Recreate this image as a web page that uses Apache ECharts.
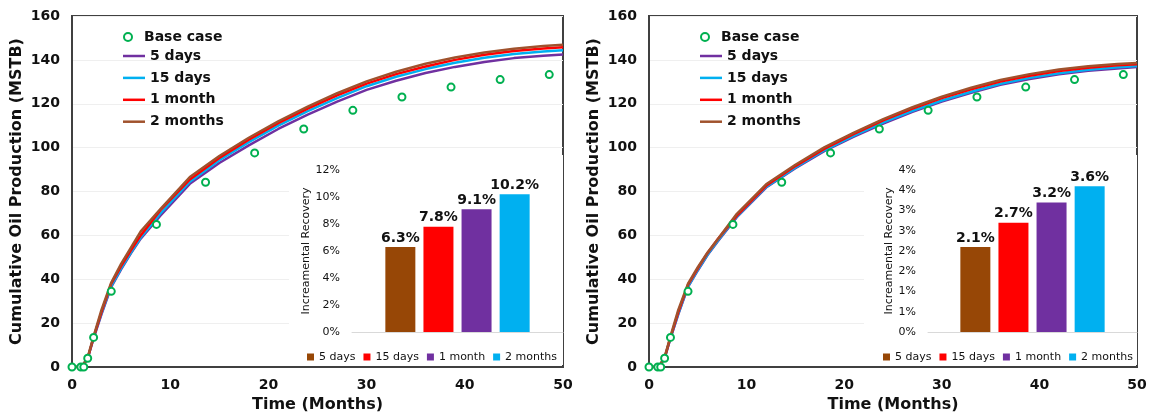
<!DOCTYPE html>
<html>
<head>
<meta charset="utf-8">
<title>Cumulative Oil Production</title>
<script src="https://cdn.jsdelivr.net/npm/echarts@6/dist/echarts.min.js"></script>
<style>
  html, body { margin: 0; padding: 0; background: #ffffff; }
  #chart { width: 1156px; height: 414px; }
</style>
</head>
<body>
<div id="chart"></div>
<script>
// ---- Data ----------------------------------------------------------------
const caseNames = ['5 days', '15 days', '1 month', '2 months'];

// Base case observations (months, MSTB)
const baseMonths = [0, 0.9, 1.2, 1.6, 2.2, 4.0, 8.6, 13.6, 18.6, 23.6, 28.6, 33.6, 38.6, 43.6, 48.6];
const baseOil    = [0, 0, 0, 4, 13.5, 34.5, 65, 84.2, 97.6, 108.5, 117, 123.1, 127.6, 131, 133.3];

// Simulation output times (months)
const simMonths = [0, 1, 1.2, 1.6, 2.2, 3, 4, 5, 6, 7, 9, 12, 15, 18, 21, 24, 27, 30, 33, 36, 39, 42, 45, 48, 50];

// Left panel runs (MSTB)
const left5d  = [0, 0, 0.5, 4.0, 13.0, 24.0, 36.5, 44.5, 51.8, 58.5, 69.0, 83.5, 93.0, 101.0, 108.5, 115.0, 121.0, 126.3, 130.5, 134.0, 136.8, 139.0, 140.8, 141.9, 142.4];
const left15d = [0, 0, 0.5, 4.0, 13.5, 24.5, 37.0, 45.0, 52.2, 59.0, 70.0, 84.5, 94.3, 102.5, 110.0, 116.6, 122.6, 128.0, 132.3, 135.8, 138.7, 141.0, 142.7, 143.8, 144.4];
const left1m  = [0, 0, 0.5, 4.0, 13.5, 25.0, 38.0, 46.0, 53.2, 60.0, 71.5, 85.5, 95.3, 103.6, 111.2, 117.8, 123.8, 129.2, 133.5, 137.0, 140.0, 142.3, 144.0, 145.2, 145.8];
const left2m  = [0, 0, 0.5, 4.5, 14.0, 26.0, 38.5, 47.0, 54.4, 61.8, 72.0, 86.6, 96.2, 104.5, 112.0, 118.7, 124.8, 130.2, 134.6, 138.2, 141.1, 143.4, 145.1, 146.3, 146.9];

// Right panel runs (MSTB)
const right5d  = [0, 0, 0.5, 4.0, 13.0, 24.0, 36.5, 44.0, 51.0, 57.0, 68.3, 81.8, 90.6, 98.5, 105.0, 111.0, 116.3, 121.0, 125.0, 128.6, 131.3, 133.4, 135.0, 136.1, 136.7];
const right15d = [0, 0, 0.5, 4.0, 13.3, 24.3, 36.8, 44.3, 51.3, 57.3, 68.6, 82.1, 91.0, 98.9, 105.5, 111.5, 116.8, 121.5, 125.5, 129.1, 131.8, 133.9, 135.5, 136.6, 137.2];
const right1m  = [0, 0, 0.5, 4.2, 13.5, 25.0, 37.5, 45.0, 52.0, 58.0, 69.0, 82.6, 91.6, 99.5, 106.3, 112.4, 117.8, 122.6, 126.6, 130.1, 132.8, 134.9, 136.4, 137.5, 138.0];
const right2m  = [0, 0, 0.5, 4.5, 14.0, 26.0, 38.0, 45.5, 52.2, 58.0, 69.8, 83.3, 92.2, 100.2, 106.8, 113.0, 118.4, 123.2, 127.3, 130.8, 133.5, 135.6, 137.1, 138.1, 138.6];

// Incremental recovery over the base case (%)
const incLeft  = [6.3, 7.8, 9.1, 10.2];
const incRight = [2.1, 2.7, 3.2, 3.6];

// ---- Styling ---------------------------------------------------------------
const FONT = 'DejaVu Sans';
const INK = '#111111';
const lineColors = ['#7030A0', '#00B0F0', '#FF0000', '#A0522D'];
const barColors  = ['#974706', '#FF0000', '#7030A0', '#00B0F0'];
const BASE_GREEN = '#00B050';
const barName = n => 'IR ' + n;

const panels = [
  {
    main: { left: 72, width: 491 },
    inset: { left: 352, width: 211 },
    cover: { x: 289, w: 274 },
    legendLeft: 118,
    insetLegendLeft: 302,
    runs: [left5d, left15d, left1m, left2m],
    inc: incLeft, incMax: 12, incStep: 2, incNameGap: 40
  },
  {
    main: { left: 649, width: 488 },
    inset: { left: 928, width: 209 },
    cover: { x: 864, w: 273 },
    legendLeft: 695,
    insetLegendLeft: 878,
    runs: [right5d, right15d, right1m, right2m],
    inc: incRight, incMax: 4, incStep: 0.5, incNameGap: 32
  }
];

const grid = [], xAxis = [], yAxis = [], series = [], legend = [], graphic = [];

panels.forEach((p, k) => {
  const mainIdx = k * 2, insetIdx = k * 2 + 1;

  grid.push({
    left: p.main.left, width: p.main.width, top: 16, height: 351,
    outerBoundsMode: 'none', containLabel: false,
    show: true, borderColor: '#404040', borderWidth: 2, backgroundColor: 'transparent'
  });
  grid.push({
    left: p.inset.left, width: p.inset.width, top: 170, height: 162,
    outerBoundsMode: 'none', containLabel: false
  });

  // main axes
  xAxis.push({
    type: 'value', gridIndex: mainIdx, min: 0, max: 50, interval: 10,
    name: 'Time (Months)', nameLocation: 'middle', nameGap: 28,
    nameTextStyle: { fontFamily: FONT, fontSize: 16, fontWeight: 'bold', color: INK },
    axisLine: { show: true, onZero: false, lineStyle: { color: '#404040', width: 2 } },
    axisTick: { show: false },
    splitLine: { show: false },
    axisLabel: { fontFamily: FONT, fontSize: 14, fontWeight: 'bold', color: INK, margin: 11 }
  });
  yAxis.push({
    type: 'value', gridIndex: mainIdx, min: 0, max: 160, interval: 20,
    name: 'Cumulative Oil Production (MSTB)', nameLocation: 'middle', nameGap: 47,
    nameTextStyle: { fontFamily: FONT, fontSize: 16, fontWeight: 'bold', color: INK },
    axisLine: { show: true, lineStyle: { color: '#404040', width: 2 } },
    axisTick: { show: false },
    splitLine: { show: true, lineStyle: { color: '#EFEFEF', width: 1 } },
    axisLabel: { fontFamily: FONT, fontSize: 14, fontWeight: 'bold', color: INK, margin: 12 }
  });

  // inset axes
  xAxis.push({
    type: 'category', gridIndex: insetIdx, data: [''], z: 3,
    axisLine: { show: true, lineStyle: { color: '#D9D9D9', width: 1 } },
    axisTick: { show: false }, axisLabel: { show: false }, splitLine: { show: false }
  });
  yAxis.push({
    type: 'value', gridIndex: insetIdx, min: 0, max: p.incMax, interval: p.incStep, z: 3,
    name: 'Increamental Recovery', nameLocation: 'middle', nameGap: p.incNameGap,
    nameTextStyle: { fontFamily: FONT, fontSize: 11, color: INK },
    axisLine: { show: false }, axisTick: { show: false }, splitLine: { show: false },
    axisLabel: {
      fontFamily: FONT, fontSize: 11, color: INK, margin: 12,
      formatter: v => Math.round(Math.round(v * 100) / 100) + '%'
    }
  });

  // white backdrop behind the inset
  graphic.push({
    type: 'rect', z: 1, silent: true,
    shape: { x: p.cover.x, y: 155, width: p.cover.w, height: 210 },
    style: { fill: '#ffffff' }
  });

  // simulation curves
  caseNames.forEach((name, i) => {
    series.push({
      type: 'line', name, xAxisIndex: mainIdx, yAxisIndex: mainIdx,
      data: simMonths.map((t, j) => [t, p.runs[i][j]]),
      symbol: 'none', smooth: false, z: 2,
      lineStyle: { color: lineColors[i], width: 2.5 },
      itemStyle: { color: lineColors[i] }
    });
  });

  // base case
  series.push({
    type: 'scatter', name: 'Base case', xAxisIndex: mainIdx, yAxisIndex: mainIdx,
    data: baseMonths.map((t, j) => [t, baseOil[j]]),
    symbol: 'circle', symbolSize: 7, z: 4,
    itemStyle: { color: '#ffffff', borderColor: BASE_GREEN, borderWidth: 2, opacity: 1 }
  });

  // incremental recovery bars
  caseNames.forEach((name, i) => {
    series.push({
      type: 'bar', name: barName(name), xAxisIndex: insetIdx, yAxisIndex: insetIdx,
      data: [p.inc[i]], barWidth: 30, barGap: '27%', z: 3,
      itemStyle: { color: barColors[i] },
      label: {
        show: true, position: 'top', distance: 2,
        fontFamily: FONT, fontSize: 14, fontWeight: 'bold', color: INK,
        formatter: d => d.value.toFixed(1) + '%'
      }
    });
  });

  // legends
  legend.push({
    orient: 'vertical', left: p.legendLeft, top: 25,
    itemWidth: 22, itemHeight: 8, selectedMode: false,
    textStyle: { fontFamily: FONT, fontSize: 14, fontWeight: 'bold', color: INK, lineHeight: 14 },
    data: [{ name: 'Base case', icon: 'circle',
             itemStyle: { color: '#ffffff', borderColor: BASE_GREEN, borderWidth: 2 } }]
  });
  legend.push({
    orient: 'vertical', left: p.legendLeft, top: 44,
    itemWidth: 22, itemHeight: 2.5, itemGap: 7.9, selectedMode: false,
    textStyle: { fontFamily: FONT, fontSize: 14, fontWeight: 'bold', color: INK, lineHeight: 14 },
    data: caseNames.map((n, i) => ({ name: n, icon: 'rect', itemStyle: { color: lineColors[i] } }))
  });
  legend.push({
    orient: 'horizontal', left: p.insetLegendLeft, top: 346.5,
    itemWidth: 7, itemHeight: 7, itemGap: 8, selectedMode: false,
    icon: 'rect',
    textStyle: { fontFamily: FONT, fontSize: 11, color: INK, lineHeight: 11 },
    formatter: n => n.slice(3),
    data: caseNames.map(barName)
  });
});

const chart = echarts.init(document.getElementById('chart'), null, { renderer: 'canvas' });
chart.setOption({
  backgroundColor: '#ffffff',
  animation: false,
  textStyle: { fontFamily: FONT },
  grid, xAxis, yAxis, series, legend, graphic
});
</script>
</body>
</html>
